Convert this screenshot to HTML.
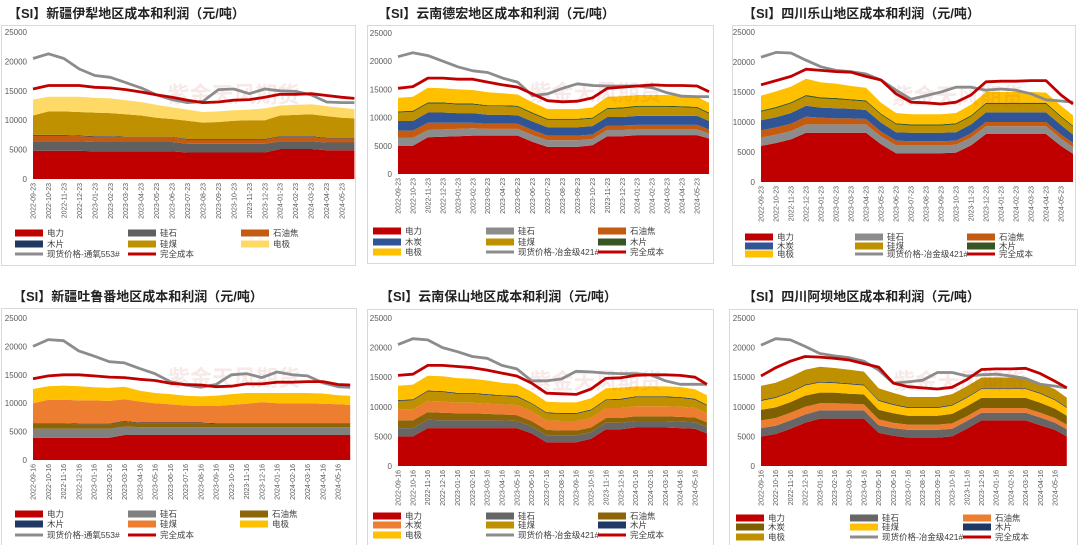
<!DOCTYPE html>
<html><head><meta charset="utf-8">
<style>
html,body{margin:0;padding:0;background:#fff;}
svg{display:block;font-family:"Liberation Sans","Noto Sans CJK SC",sans-serif;}
</style></head>
<body>
<svg id="chart" width="1080" height="545" viewBox="0 0 1080 545"></svg>
<script>
// ---------- shared data ----------
const monthIndex = [0,1,2,3,4,5,6,7,8,9,10,11,12,13,14,15,16,17,18,19,20,20.8];
const yTicks = [0,5000,10000,15000,20000,25000];
const tickMonths = ["2022-09","2022-10","2022-11","2022-12","2023-01","2023-02","2023-03","2023-04","2023-05","2023-06","2023-07","2023-08","2023-09","2023-10","2023-11","2023-12","2024-01","2024-02","2024-03","2024-04","2024-05"];

// ---------- panel 1: 新疆伊犁 ----------
const p1Power  = [4800,4800,4800,4800,4700,4700,4700,4700,4700,4700,4500,4500,4500,4500,4500,4500,5100,5100,5100,4900,4900,4900];
const p1Silica = [1600,1600,1600,1600,1600,1600,1600,1600,1600,1600,1500,1500,1500,1500,1500,1500,1300,1300,1300,1300,1300,1300];
const p1Coke   = [1000,1000,1000,900,900,900,800,800,800,800,700,700,700,700,700,700,800,800,800,700,700,700];
const p1Chip   = [100,100,100,100,100,100,100,100,100,100,100,100,100,100,100,100,100,100,100,100,100,100];
const p1Coal   = [3300,4000,4000,4000,4000,3900,3800,3600,3200,3000,3100,2800,2900,3100,3200,3200,3500,3600,3700,3700,3400,3300];
const p1Elec   = [2700,2500,2500,2600,2500,2500,2400,2300,2200,2000,1900,1800,1800,1800,1800,2000,1700,1700,1700,1700,1700,1600];
const p1Price  = [20500,21300,20500,18700,17600,17300,16400,15500,14300,13500,13000,13200,15200,15300,14500,15300,15000,14900,14300,13100,13000,13000];
const p1Cost   = [15300,15900,15900,15900,15600,15500,15200,14800,14300,13900,13400,13000,13100,13400,13500,13900,14400,14400,14500,14200,13900,13700];

// ---------- panel 2: 云南德宏 ----------
const p2Power  = [5000,5000,6500,6600,6700,6800,6800,6800,6800,5700,4800,4800,4800,5100,6700,6700,6900,6900,6900,6900,6900,6300];
const p2Silica = [1400,1400,1300,1300,1300,1300,1200,1200,1200,1200,1200,1200,1200,1100,1100,1100,1000,1000,1000,1000,1000,900];
const p2Coke   = [1300,1300,1300,1200,1100,1000,900,900,900,900,800,800,800,800,800,800,800,800,800,800,800,700];
const p2Char   = [1700,1700,1800,1800,1700,1700,1600,1600,1500,1500,1500,1500,1500,1500,1500,1500,1600,1600,1600,1600,1600,1500];
const p2Coal   = [1500,1600,1600,1600,1500,1500,1500,1500,1500,1400,1300,1300,1300,1300,1400,1500,1600,1600,1600,1500,1400,1300];
const p2Chip   = [200,200,200,200,200,200,200,200,200,200,200,200,200,200,200,200,200,200,200,200,200,200];
const p2Elec   = [2400,2500,2600,2500,2500,2400,2300,2100,2000,1800,1700,1700,1700,1800,2000,2000,1900,1900,1900,1800,1800,1700];
const p2Price  = [20800,21500,21000,20000,19000,18300,18000,17000,16300,13900,14200,15200,16000,15700,15600,15600,15600,15300,14400,13800,13700,13700];
const p2Cost   = [15200,15500,17000,17000,16800,16800,16300,15800,15400,14200,13000,12800,12900,13500,15200,15400,15600,15800,15700,15700,15600,14600];

// ---------- panel 3: 四川乐山 ----------
const p3Power  = [6000,6500,7100,8200,8200,8200,8200,8200,6300,4800,4800,4800,4800,4900,6100,8000,8000,8000,8000,8000,6000,4700];
const p3Silica = [1400,1400,1400,1400,1400,1400,1400,1400,1300,1300,1300,1300,1300,1300,1300,1300,1300,1300,1300,1300,1200,1100];
const p3Coke   = [1200,1200,1200,1300,1100,1000,1000,900,800,800,700,700,700,700,700,700,700,700,700,700,700,700];
const p3Char   = [1700,1700,1800,1800,1700,1700,1600,1500,1500,1400,1400,1400,1400,1400,1500,1600,1600,1600,1600,1600,1600,1400];
const p3Coal   = [1400,1500,1600,1600,1500,1500,1400,1400,1300,1300,1200,1200,1200,1300,1300,1400,1400,1400,1400,1400,1300,1300];
const p3Chip   = [200,200,200,200,200,200,200,200,200,200,200,200,200,200,200,200,200,200,200,200,200,200];
const p3Elec   = [2500,2600,2600,2700,2500,2400,2200,2100,1800,1700,1700,1700,1700,1700,1800,1800,1800,1800,1800,1700,1700,1700];
const p3Price  = [20800,21600,21500,20300,19200,18600,18400,18000,17000,15300,13800,14400,15000,15800,15800,15300,15500,15300,14700,13700,13500,13300];
const p3Cost   = [16200,16900,17600,18800,18600,18400,18300,17600,17000,14700,13300,13200,13000,13300,14500,16700,16800,16800,16900,16900,14500,13000];

// ---------- panel 4: 新疆吐鲁番 ----------
const p4Power  = [3900,3900,3900,3900,3900,3900,4400,4400,4400,4400,4400,4400,4400,4400,4400,4400,4400,4400,4400,4400,4400,4400];
const p4Silica = [1600,1600,1600,1600,1600,1600,1500,1400,1400,1400,1400,1400,1400,1400,1400,1400,1400,1400,1400,1400,1400,1400];
const p4Coke   = [900,900,900,800,800,800,900,700,700,700,700,700,600,600,600,600,600,600,600,600,600,600];
const p4Chip   = [100,100,100,100,100,100,100,100,100,100,100,100,100,100,100,100,100,100,100,100,100,100];
const p4Coal   = [3500,4100,4100,4100,4100,4000,3800,3700,3400,3200,3000,2900,3000,3200,3400,3700,3500,3500,3500,3400,3300,3200];
const p4Elec   = [2500,2400,2500,2500,2300,2300,2200,1900,1800,1800,1700,1700,1800,1900,1900,1600,1800,1800,1800,1800,1600,1600];
const p4Price  = [20000,21200,21000,19200,18300,17300,17100,16100,15200,13800,13200,12800,13300,15000,15200,14500,15500,15000,14800,13600,12900,12800];
const p4Cost   = [14300,14800,15000,15000,14800,14600,14500,14200,14000,13500,13300,13200,12900,13000,13400,13400,13700,13700,13800,13800,13300,13200];

// ---------- panel 5: 云南保山 ----------
const p5Power  = [5000,5000,6400,6400,6400,6400,6400,6400,6400,5500,4000,4000,4000,4600,6200,6200,6500,6500,6500,6400,6300,5500];
const p5Silica = [1400,1400,1400,1300,1300,1300,1300,1300,1200,1200,1200,1200,1200,1100,1100,1100,1100,1100,1100,1100,1100,1100];
const p5Coke   = [1300,1300,1300,1300,1200,1200,1100,1000,1000,900,900,800,800,800,800,800,800,800,800,800,800,800];
const p5Char   = [1800,1800,1900,1900,1800,1800,1700,1700,1700,1600,1600,1600,1600,1600,1700,1700,1700,1700,1700,1700,1600,1500];
const p5Coal   = [1500,1600,1600,1600,1500,1500,1500,1400,1400,1300,1200,1200,1200,1300,1300,1400,1500,1500,1500,1500,1400,1300];
const p5Chip   = [150,150,150,150,150,150,150,150,150,150,150,150,150,150,150,150,150,150,150,150,150,150];
const p5Elec   = [2400,2500,2500,2500,2500,2400,2300,2100,2000,1900,1800,1800,1800,1900,1900,1900,1700,1700,1700,1700,1600,1600];
const p5Price  = [20500,21500,21300,20000,19300,18500,18200,17000,16400,14400,14400,14700,16000,15900,15700,15600,15600,15400,14400,13800,13800,13800];
const p5Cost   = [15300,15500,17000,17000,16800,16600,16200,15700,15200,14000,12300,12200,12100,13000,14800,14900,15300,15400,15400,15300,15000,13800];

// ---------- panel 6: 四川阿坝 ----------
const p6Power  = [5000,5400,6300,7300,8000,8000,8000,8000,5600,5100,4800,4800,4800,5000,6300,7700,7700,7700,7700,6900,6100,5000];
const p6Silica = [1400,1400,1400,1400,1400,1400,1400,1400,1300,1300,1300,1300,1300,1300,1300,1300,1300,1300,1300,1300,1200,1200];
const p6Coke   = [1300,1300,1300,1300,1200,1200,1100,1000,1000,900,900,900,900,900,800,800,800,800,800,800,800,800];
const p6Char   = [1800,1800,1800,1900,1800,1800,1700,1700,1600,1600,1500,1500,1500,1600,1700,1700,1700,1700,1700,1700,1600,1500];
const p6Coal   = [1500,1600,1600,1700,1700,1600,1600,1500,1500,1400,1300,1300,1300,1400,1400,1500,1500,1500,1500,1500,1400,1300];
const p6Chip   = [150,150,150,150,150,150,150,150,150,150,150,150,150,150,150,150,150,150,150,150,150,150];
const p6Elec   = [2400,2400,2500,2500,2500,2400,2300,2200,2000,1900,1700,1700,1700,1800,1800,1800,1800,1800,1800,1700,1700,1600];
const p6Price  = [20400,21500,21300,20200,19000,18600,18300,17700,16200,14000,14200,14500,15800,15800,15200,15400,15500,15200,14800,13800,13500,13200];
const p6Cost   = [15200,16600,17700,18500,18400,18200,17900,17300,16700,14000,13400,13200,13000,13300,14600,16300,16400,16400,16500,15600,14300,13200];

// ---------- rendering ----------
const NS = "http://www.w3.org/2000/svg";
const svg = document.getElementById("chart");
function mk(tag, attrs, parent){
  const e = document.createElementNS(NS, tag);
  for (const k in attrs) e.setAttribute(k, attrs[k]);
  (parent||svg).appendChild(e);
  return e;
}

const panels = [
  {key:"yili", title:"【SI】新疆伊犁地区成本和利润（元/吨）", tx:8, ty:18, frame:[1,25,354,240], x0:33, step:15.45, yz:179, yt:32, suffix:"-23",
   stacks:[["电力",p1Power,"#C00000"],["硅石",p1Silica,"#606060"],["石油焦",p1Coke,"#C55A11"],["木片",p1Chip,"#1F3864"],["硅煤",p1Coal,"#BF9000"],["电极",p1Elec,"#FFD966"]],
   price:p1Price, priceName:"现货价格-通氧553#", cost:p1Cost,
   legendRows:[233,244,254], legendCols:[15,128,241],
   legendOrder:["电力","硅石","石油焦","木片","硅煤","电极","P","C"]},
  {key:"dehong", title:"【SI】云南德宏地区成本和利润（元/吨）", tx:378, ty:18, frame:[367,25,346,238], x0:398, step:14.95, yz:174, yt:33, suffix:"-23",
   stacks:[["电力",p2Power,"#C00000"],["硅石",p2Silica,"#8C8C8C"],["石油焦",p2Coke,"#C55A11"],["木炭",p2Char,"#2F5597"],["硅煤",p2Coal,"#BF9000"],["木片",p2Chip,"#375623"],["电极",p2Elec,"#FFC000"]],
   price:p2Price, priceName:"现货价格-冶金级421#", cost:p2Cost,
   legendRows:[231,242,252], legendCols:[373,486,598],
   legendOrder:["电力","硅石","石油焦","木炭","硅煤","木片","电极","P","C"]},
  {key:"leshan", title:"【SI】四川乐山地区成本和利润（元/吨）", tx:743, ty:18, frame:[732,25,343,240], x0:761, step:15.0, yz:182, yt:32, suffix:"-23",
   stacks:[["电力",p3Power,"#C00000"],["硅石",p3Silica,"#8C8C8C"],["石油焦",p3Coke,"#C55A11"],["木炭",p3Char,"#2F5597"],["硅煤",p3Coal,"#BF9000"],["木片",p3Chip,"#375623"],["电极",p3Elec,"#FFC000"]],
   price:p3Price, priceName:"现货价格-冶金级421#", cost:p3Cost,
   legendRows:[237,246,254], legendCols:[745,855,967],
   legendOrder:["电力","硅石","石油焦","木炭","硅煤","木片","电极","P","C"]},
  {key:"turpan", title:"【SI】新疆吐鲁番地区成本和利润（元/吨）", tx:13, ty:301, frame:[1,308,355,237], x0:33, step:15.25, yz:460, yt:318, suffix:"-16",
   stacks:[["电力",p4Power,"#C00000"],["硅石",p4Silica,"#808080"],["石油焦",p4Coke,"#8B6508"],["木片",p4Chip,"#1F3864"],["硅煤",p4Coal,"#ED7D31"],["电极",p4Elec,"#FFC000"]],
   price:p4Price, priceName:"现货价格-通氧553#", cost:p4Cost,
   legendRows:[514,524,535], legendCols:[15,128,240],
   legendOrder:["电力","硅石","石油焦","木片","硅煤","电极","P","C"]},
  {key:"baoshan", title:"【SI】云南保山地区成本和利润（元/吨）", tx:380, ty:301, frame:[367,309,346,236], x0:398, step:14.85, yz:466, yt:318, suffix:"-16",
   stacks:[["电力",p5Power,"#C00000"],["硅石",p5Silica,"#666666"],["石油焦",p5Coke,"#8B6508"],["木炭",p5Char,"#ED7D31"],["硅煤",p5Coal,"#BF9000"],["木片",p5Chip,"#1F3864"],["电极",p5Elec,"#FFC000"]],
   price:p5Price, priceName:"现货价格-冶金级421#", cost:p5Cost,
   legendRows:[516,525,535], legendCols:[373,486,598],
   legendOrder:["电力","硅石","石油焦","木炭","硅煤","木片","电极","P","C"]},
  {key:"aba", title:"【SI】四川阿坝地区成本和利润（元/吨）", tx:743, ty:301, frame:[729,309,348,236], x0:761, step:14.7, yz:466, yt:318, suffix:"-16",
   stacks:[["电力",p6Power,"#C00000"],["硅石",p6Silica,"#666666"],["石油焦",p6Coke,"#ED7D31"],["木炭",p6Char,"#7F6000"],["硅煤",p6Coal,"#FFC000"],["木片",p6Chip,"#1F3864"],["电极",p6Elec,"#BF9000"]],
   price:p6Price, priceName:"现货价格-冶金级421#", cost:p6Cost,
   legendRows:[518,527,537], legendCols:[736,850,963],
   legendOrder:["电力","硅石","石油焦","木炭","硅煤","木片","电极","P","C"]}
];

panels.forEach(p => {
  const g = mk("g", {});
  
  
  const fx = p.frame;
  const frame = mk("rect", {x:fx[0]+0.5, y:fx[1]+0.5, width:fx[2], height:fx[3], fill:"#fff", stroke:"#d9d9d9", "stroke-width":1}, g);
  
  
  const t = mk("text", {x:p.tx, y:p.ty, "font-size":13, "font-weight":"bold", fill:"#222"}, g);
  t.textContent = p.title;
  
  

  const X = i => p.x0 + i * p.step;
  const Y = v => p.yz - (v / 25000) * (p.yz - p.yt);

  yTicks.forEach(v => {
    const lt = mk("text", {x:p.x0 - 6, y:Y(v) + 3, "font-size":8, fill:"#595959", "text-anchor":"end"}, g);
    lt.textContent = v;
    
    
  });

  const cum = monthIndex.map(() => 0);
  p.stacks.forEach(s => {
    const vals = s[1];
    const lower = cum.slice();
    for (let i = 0; i < cum.length; i++) cum[i] += vals[i];
    let pts = monthIndex.map((m, i) => X(m).toFixed(1) + "," + Y(cum[i]).toFixed(1));
    for (let i = monthIndex.length - 1; i >= 0; i--) pts.push(X(monthIndex[i]).toFixed(1) + "," + Y(lower[i]).toFixed(1));
    const poly = mk("polygon", {points:pts.join(" "), fill:s[2]}, g);
    
    
  });

  const wm = mk("text", {x:p.x0 + 0.38*(fx[2]), y:p.yz - 0.52*(p.yz-p.yt), "font-size":22, fill:"#c0504d", opacity:0.12, "font-weight":"bold"}, g);
  wm.textContent = "紫金天风期货";
  
  

  const linePts = arr => monthIndex.map((m, i) => X(m).toFixed(1) + "," + Y(arr[i]).toFixed(1)).join(" ");
  const pl = mk("polyline", {points:linePts(p.price), fill:"none", stroke:"#8C8C8C", "stroke-width":2.8, "stroke-linejoin":"round"}, g);
  
  
  const cl = mk("polyline", {points:linePts(p.cost), fill:"none", stroke:"#C00000", "stroke-width":2.8, "stroke-linejoin":"round"}, g);
  
  

  tickMonths.forEach((tm, i) => {
    const xx = X(i);
    const lbl = mk("text", {x:0, y:0, "font-size":7, fill:"#595959", "text-anchor":"end", transform:"translate(" + (xx + 2.5) + "," + (p.yz + 4) + ") rotate(-90)"}, g);
    lbl.textContent = tm + p.suffix;
    
    
  });

  const colorOf = {};
  p.stacks.forEach(s => colorOf[s[0]] = s[2]);
  p.legendOrder.forEach((k, idx) => {
    const r = Math.floor(idx / 3), c = idx % 3;
    const lx = p.legendCols[c], ly = p.legendRows[r];
    let name = k, sw;
    if (k === "P" || k === "C") {
      name = k === "P" ? p.priceName : "完全成本";
      sw = mk("line", {x1:lx, y1:ly, x2:lx+28, y2:ly, stroke:k === "P" ? "#8C8C8C" : "#C00000", "stroke-width":3}, g);
    } else {
      sw = mk("rect", {x:lx, y:ly-3.5, width:28, height:7, fill:colorOf[k]}, g);
    }
    
    
    const lt = mk("text", {x:lx + 32, y:ly + 3.2, "font-size":8.5, fill:"#404040"}, g);
    lt.textContent = name;
    
    
  });
});
</script>
</body></html>
